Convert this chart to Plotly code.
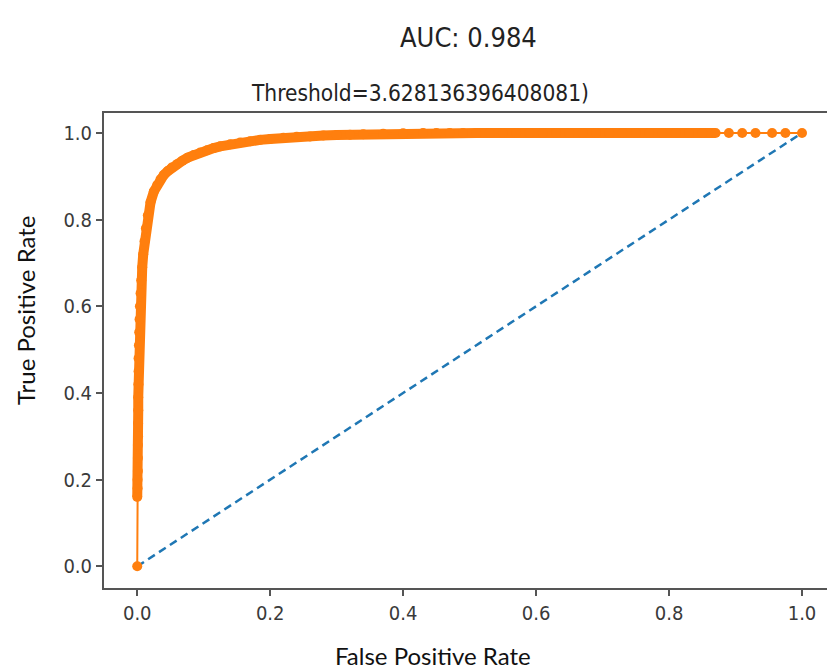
import plotly.graph_objects as go

# ---- data ----
fpr = [0.0, 0.0, 0.0005, 0.0005, 0.001, 0.001, 0.001, 0.0012, 0.0012, 0.0015, 0.0015,
       0.0018, 0.002, 0.002, 0.0025, 0.003, 0.0035, 0.004, 0.005, 0.006, 0.0075,
       0.009, 0.011, 0.013, 0.016, 0.02, 0.025, 0.03, 0.035, 0.04, 0.046, 0.052,
       0.06, 0.068, 0.076, 0.085, 0.095, 0.105, 0.115, 0.125, 0.14, 0.155, 0.17,
       0.185, 0.2, 0.22, 0.24, 0.26, 0.28, 0.3, 0.32, 0.34, 0.37, 0.4, 0.43,
       0.45, 0.47, 0.49, 0.51, 0.53, 0.55, 0.57, 0.59, 0.61, 0.63, 0.65, 0.67,
       0.69, 0.71, 0.73, 0.75, 0.77, 0.79, 0.81, 0.83, 0.85, 0.87, 0.89, 0.91,
       0.93, 0.955, 0.975, 1.0]
tpr = [0.0, 0.16, 0.18, 0.2, 0.22, 0.25, 0.28, 0.3, 0.33, 0.36, 0.39,
       0.42, 0.45, 0.48, 0.51, 0.54, 0.57, 0.6, 0.63, 0.66, 0.69,
       0.72, 0.75, 0.78, 0.81, 0.84, 0.865, 0.88, 0.893, 0.903, 0.912, 0.92,
       0.928, 0.936, 0.943, 0.949, 0.955, 0.96, 0.965, 0.969, 0.974, 0.978, 0.981,
       0.984, 0.986, 0.989, 0.991, 0.992, 0.994, 0.995, 0.996, 0.997, 0.998, 0.999, 1.0,
       1.0, 1.0, 1.0, 1.0, 1.0, 1.0, 1.0, 1.0, 1.0, 1.0, 1.0, 1.0,
       1.0, 1.0, 1.0, 1.0, 1.0, 1.0, 1.0, 1.0, 1.0, 1.0, 1.0, 1.0,
       1.0, 1.0, 1.0, 1.0]
diag_x = [0.0, 1.0]
diag_y = [0.0, 1.0]
tick_vals = [0.0, 0.2, 0.4, 0.6, 0.8, 1.0]
tick_text = ["0.0", "0.2", "0.4", "0.6", "0.8", "1.0"]
title_auc = "AUC: 0.984"
title_thr = "Threshold=3.628136396408081)"
x_title = "False Positive Rate"
y_title = "True Positive Rate"

W, H = 827, 670
L, R, T, B = 104, 827, 113, 588


def px(x):
    return (x - L) / (R - L)


def py(y):
    return (B - y) / (B - T)


# dense part of the curve (points where the sampled thresholds overlap into a band)
band_start, band_end = 1, 77

fig = go.Figure()
fig.add_trace(go.Scatter(x=diag_x, y=diag_y, mode="lines",
                         line=dict(color="#1f77b4", width=2.5, dash="8px,5px"),
                         showlegend=False, hoverinfo="skip"))
fig.add_trace(go.Scatter(x=fpr[band_start:band_end], y=tpr[band_start:band_end],
                         mode="lines", line=dict(color="#ff7f0e", width=10),
                         showlegend=False, hoverinfo="skip"))
fig.add_trace(go.Scatter(x=fpr, y=tpr, mode="lines+markers",
                         line=dict(color="#ff7f0e", width=2),
                         marker=dict(color="#ff7f0e", size=10),
                         showlegend=False))

cond = "DejaVu Sans Condensed, DejaVu Sans"
tick_font = dict(family=cond, size=20, color="#3a3a3a")
axis_common = dict(showgrid=False, zeroline=False, showline=True,
                   linecolor="#555555", linewidth=2, ticks="outside",
                   ticklen=6, tickwidth=1.5, tickcolor="#555555",
                   tickvals=tick_vals, ticktext=tick_text, tickfont=tick_font)

fig.update_layout(
    width=W, height=H,
    margin=dict(l=L, r=W - R, t=T, b=H - B, pad=0),
    paper_bgcolor="white", plot_bgcolor="white",
    xaxis=dict(range=[-0.05, 1.0376], mirror=True, **axis_common),
    yaxis=dict(range=[-0.05, 1.046], mirror=False, **axis_common),
)

annos = [
    (title_auc, 468, 38, 0, cond, 27, "#222222"),
    (title_thr, 420, 93, 0, cond, 22.5, "#222222"),
    (x_title, 433, 655, 0, "Lato", 24, "#111111"),
    (y_title, 25, 310, -90, "Lato", 24, "#111111"),
]
for text, x, y, ang, fam, sz, col in annos:
    fig.add_annotation(text=text, xref="paper", yref="paper",
                       x=px(x), y=py(y), xanchor="center", yanchor="middle",
                       showarrow=False, textangle=ang,
                       font=dict(family=fam, size=sz, color=col))

fig.write_html("out.html")
